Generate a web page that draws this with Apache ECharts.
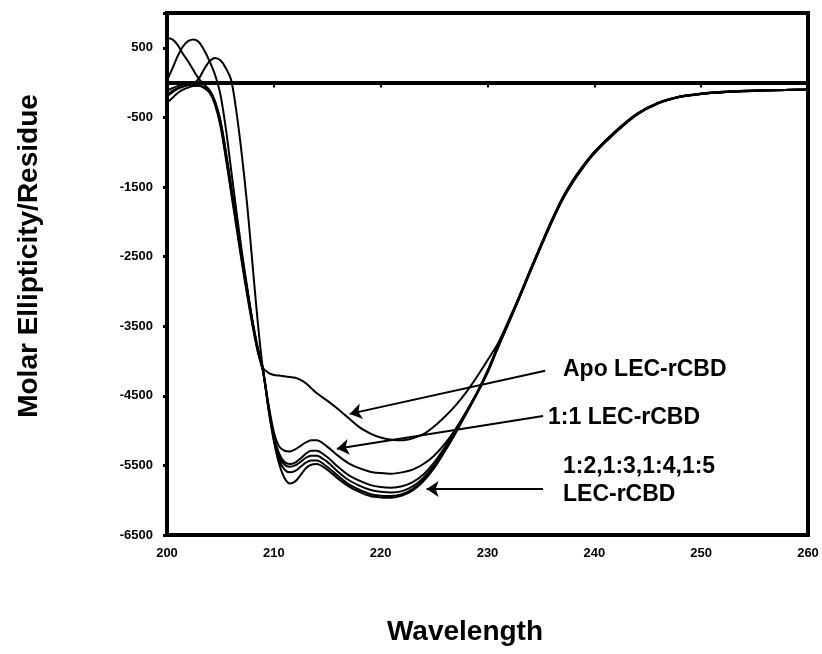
<!DOCTYPE html>
<html>
<head>
<meta charset="utf-8">
<script src="https://cdn.jsdelivr.net/npm/echarts@6/dist/echarts.min.js"></script>
<style>
  html, body { margin: 0; padding: 0; background: #fff; }
  #chart { width: 822px; height: 654px; }
</style>
</head>
<body>
<div id="chart"></div>
<script>
// ---------- DATA ----------
const wavelength = [200,200.5,201,201.5,202,202.5,203,203.5,204,204.5,205,205.5,206,206.5,207,207.5,208,208.5,209,209.5,210,210.5,211,211.5,212,212.5,213,213.5,214,
  215,216,217,218,219,220,221,222,223,224,225,226,227,228,229,230,231,232,233,234,235,236,237,238,239,240,
  242,244,246,248,250,252,254,256,258,260];

const apo = [-290,-220,-150,-100,-70,-50,-50,-70,-120,-280,-560,-1000,-1500,-2000,-2500,-2970,-3430,-3820,-4100,-4170,-4200,-4210,-4220,-4230,-4240,-4270,-4320,-4390,-4460,
  -4570,-4690,-4820,-4950,-5040,-5100,-5130,-5140,-5110,-5050,-4940,-4800,-4640,-4450,-4230,-3990,-3740,-3410,-3060,-2690,-2330,-1980,-1660,-1400,-1185,-995,
  -695,-445,-287,-198,-158,-132,-118,-108,-103,-98];

const ratio11 = [-200,-140,-90,-60,-40,-30,-40,-70,-130,-300,-590,-1040,-1540,-2040,-2540,-3010,-3460,-3850,-4150,-4620,-5020,-5230,-5290,-5300,-5270,-5220,-5170,-5140,-5140,
  -5230,-5360,-5470,-5540,-5590,-5610,-5620,-5600,-5560,-5480,-5360,-5190,-4980,-4740,-4470,-4160,-3800,-3440,-3080,-2710,-2350,-2000,-1680,-1420,-1200,-1010,
  -710,-455,-295,-205,-165,-140,-125,-115,-108,-102];

const ratio12 = [-120,-80,-50,-30,-20,-20,-40,-80,-150,-320,-620,-1080,-1580,-2080,-2580,-3050,-3490,-3870,-4160,-4650,-5080,-5330,-5450,-5480,-5460,-5400,-5330,-5290,-5290,
  -5380,-5520,-5640,-5720,-5780,-5810,-5820,-5800,-5740,-5630,-5460,-5240,-4990,-4730,-4460,-4150,-3780,-3430,-3075,-2705,-2345,-1995,-1675,-1415,-1195,-1005,
  -705,-452,-292,-202,-162,-137,-122,-112,-106,-101];

const ratio13 = [-180,-120,-80,-50,-30,-10,60,200,310,355,320,210,40,-420,-1030,-1750,-2600,-3450,-4150,-4660,-5100,-5370,-5490,-5520,-5500,-5450,-5390,-5360,-5360,
  -5450,-5590,-5710,-5790,-5850,-5880,-5890,-5870,-5800,-5680,-5500,-5270,-5010,-4740,-4460,-4140,-3770,-3420,-3065,-2695,-2335,-1985,-1665,-1405,-1185,-995,
  -695,-447,-288,-198,-158,-133,-118,-108,-103,-98];

const ratio14 = [30,200,380,520,600,620,580,460,300,110,-170,-650,-1250,-1850,-2420,-2940,-3430,-3840,-4150,-4680,-5120,-5420,-5560,-5600,-5580,-5520,-5460,-5430,-5430,
  -5520,-5650,-5770,-5850,-5910,-5935,-5940,-5915,-5840,-5710,-5520,-5290,-5030,-4750,-4470,-4160,-3790,-3440,-3085,-2715,-2355,-2005,-1685,-1425,-1205,-1012,
  -712,-458,-296,-204,-163,-138,-123,-113,-107,-102];

const ratio15 = [645,620,540,410,300,170,50,-30,-110,-270,-540,-980,-1480,-1980,-2480,-2960,-3420,-3810,-4130,-4700,-5150,-5480,-5680,-5760,-5730,-5640,-5540,-5490,-5480,
  -5560,-5690,-5800,-5880,-5940,-5960,-5965,-5935,-5860,-5730,-5540,-5300,-5040,-4760,-4480,-4170,-3800,-3450,-3090,-2720,-2360,-2010,-1690,-1430,-1210,-1015,
  -715,-460,-298,-206,-165,-140,-125,-115,-108,-103];

const seriesNames = ['Apo LEC-rCBD', '1:1 LEC-rCBD', '1:2 LEC-rCBD', '1:3 LEC-rCBD', '1:4 LEC-rCBD', '1:5 LEC-rCBD'];
const seriesValues = [apo, ratio11, ratio12, ratio13, ratio14, ratio15];

const xTicks = [200, 210, 220, 230, 240, 250, 260];
const yTicks = [500, -500, -1500, -2500, -3500, -4500, -5500, -6500];

// annotation arrows (data coordinates): [from, to]
const arrowApo = [[235.4, -4140], [217.1, -4760]];
const arrow11 = [[235.2, -4790], [215.9, -5260]];
const arrowRest = [[235.2, -5840], [224.3, -5840]];

// ---------- CHART ----------
const chart = echarts.init(document.getElementById('chart'), null, { renderer: 'canvas' });
const labelFont = { fontFamily: 'Liberation Sans', fontWeight: 'bold', fontSize: 13, color: '#000' };

const series = seriesValues.map((vals, k) => ({
  name: seriesNames[k],
  type: 'line',
  xAxisIndex: 0,
  yAxisIndex: 0,
  data: wavelength.map((w, i) => [w, vals[i]]),
  showSymbol: false,
  smooth: 0.3,
  lineStyle: { color: '#000', width: 2 },
  itemStyle: { color: '#000' },
  z: 3,
  animation: false
}));

series[0].markLine = {
  silent: true,
  animation: false,
  symbol: ['none', 'arrow'],
  symbolSize: 12,
  label: { show: false },
  lineStyle: { color: '#000', width: 2, type: 'solid' },
  data: [arrowApo, arrow11, arrowRest].map(a => [{ coord: a[0] }, { coord: a[1] }])
};

const option = {
  animation: false,
  backgroundColor: '#fff',
  grid: { left: 167, right: 14, top: 13, bottom: 119, show: true, borderColor: '#000', borderWidth: 4, backgroundColor: 'transparent' },
  xAxis: [
    {
      type: 'value', min: 200, max: 260, interval: 10, position: 'bottom',
      axisLine: { show: true, onZero: false, lineStyle: { color: '#000', width: 4 } },
      axisTick: { show: false },
      axisLabel: Object.assign({ margin: 12, formatter: v => xTicks.includes(v) ? String(v) : '' }, labelFont),
      splitLine: { show: false }
    },
    {
      type: 'value', min: 200, max: 260, interval: 10, position: 'top',
      axisLine: { show: true, onZero: true, lineStyle: { color: '#000', width: 4 } },
      axisTick: { show: true, inside: true, length: 5, lineStyle: { color: '#000', width: 2 } },
      axisLabel: { show: false },
      splitLine: { show: false }
    }
  ],
  yAxis: {
    type: 'value', min: -6500, max: 1000, interval: 1000,
    axisLine: { show: true, onZero: false, lineStyle: { color: '#000', width: 4 } },
    axisTick: { show: true, length: 4, lineStyle: { color: '#000', width: 3 } },
    axisLabel: Object.assign({ margin: 14, formatter: v => yTicks.includes(v) ? String(v) : '' }, labelFont),
    splitLine: { show: false }
  },
  series: series,
  graphic: [
    { type: 'text', x: 29, y: 256, rotation: Math.PI / 2,
      style: { text: 'Molar Ellipticity/Residue', font: 'bold 28px "Liberation Sans"', fill: '#000', align: 'center', verticalAlign: 'middle' } },
    { type: 'text', x: 465, y: 632,
      style: { text: 'Wavelength', font: 'bold 28px "Liberation Sans"', fill: '#000', align: 'center', verticalAlign: 'middle' } },
    { type: 'text', x: 563, y: 370, z: 10,
      style: { text: 'Apo LEC-rCBD', font: 'bold 23px "Liberation Sans"', fill: '#000', align: 'left', verticalAlign: 'middle' } },
    { type: 'text', x: 548, y: 418, z: 10,
      style: { text: '1:1 LEC-rCBD', font: 'bold 23px "Liberation Sans"', fill: '#000', align: 'left', verticalAlign: 'middle' } },
    { type: 'text', x: 563, y: 467, z: 10,
      style: { text: '1:2,1:3,1:4,1:5', font: 'bold 23px "Liberation Sans"', fill: '#000', align: 'left', verticalAlign: 'middle' } },
    { type: 'text', x: 563, y: 495, z: 10,
      style: { text: 'LEC-rCBD', font: 'bold 23px "Liberation Sans"', fill: '#000', align: 'left', verticalAlign: 'middle' } }
  ]
};
chart.setOption(option);
</script>
</body>
</html>
